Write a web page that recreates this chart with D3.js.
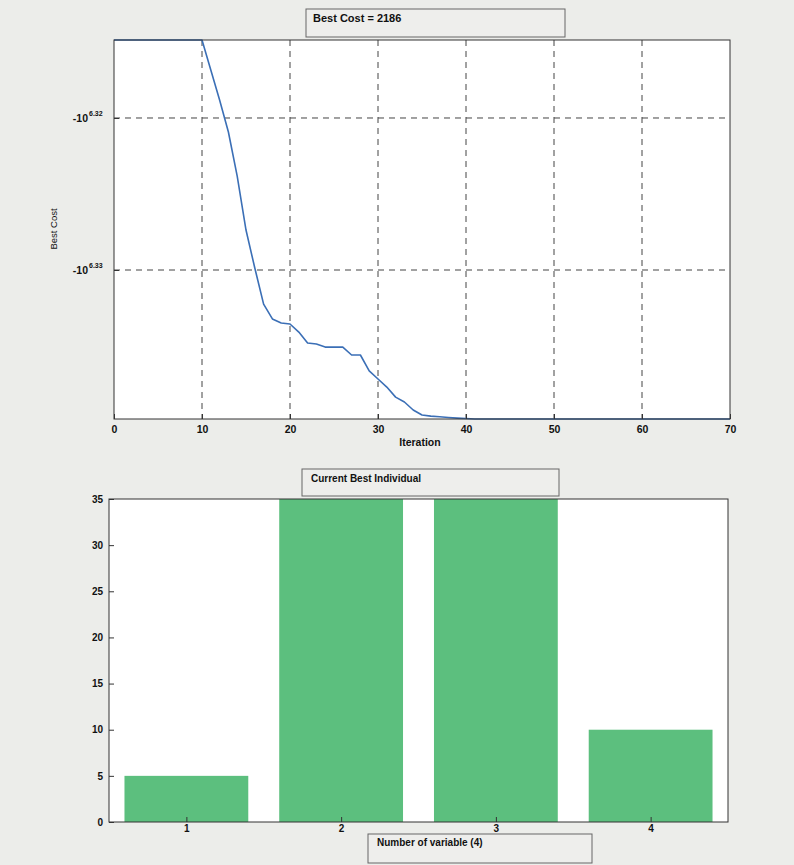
<!DOCTYPE html>
<html>
<head>
<meta charset="utf-8">
<script src="https://cdn.jsdelivr.net/npm/d3@7"></script>
<style>
  html, body { margin: 0; padding: 0; background: #ecedea; }
  svg { display: block; }
  text { font-family: "Liberation Sans", Arial, sans-serif; fill: #111; }
</style>
</head>
<body>
<svg id="chart" width="794" height="865"></svg>
<script>
// Convergence history: iteration number and log10 of |best cost|
const iterations = d3.range(0, 71);
const bestCostExp = [
  6.31487, 6.31487, 6.31487, 6.31487, 6.31487, 6.31487, 6.31487, 6.31487, 6.31487, 6.31487,
  6.31487, 6.31684, 6.31882, 6.32092, 6.32382, 6.32737, 6.32987, 6.33224, 6.33322, 6.33349,
  6.33355, 6.33408, 6.33480, 6.33487, 6.33507, 6.33507, 6.33507, 6.33559, 6.33559, 6.33664,
  6.33717, 6.33770, 6.33836, 6.33868, 6.33921, 6.33954, 6.33961, 6.33965, 6.33970, 6.33974,
  6.33977, 6.33980, 6.33980, 6.33980, 6.33980, 6.33980, 6.33980, 6.33980, 6.33980, 6.33980,
  6.33980, 6.33980, 6.33980, 6.33980, 6.33980, 6.33980, 6.33980, 6.33980, 6.33980, 6.33980,
  6.33980, 6.33980, 6.33980, 6.33980, 6.33980, 6.33980, 6.33980, 6.33980, 6.33980, 6.33980,
  6.33980
];
const costXTicks = [0, 10, 20, 30, 40, 50, 60, 70];
const costYTicks = [6.32, 6.33];
const bestCostValue = 2186;

// Current best individual: one bar per decision variable
const variables = [1, 2, 3, 4];
const variableValues = [5, 35, 35, 10];
const barYTicks = [0, 5, 10, 15, 20, 25, 30, 35];

const svg = d3.select("#chart");
const font = "Liberation Sans, Arial, sans-serif";

// ---------- Upper axes: Best Cost vs Iteration ----------
const upper = { left: 114, right: 730, top: 40, bottom: 419 };
const x1 = d3.scaleLinear().domain([0, 70]).range([upper.left, upper.right]);
const y1 = d3.scaleLinear().domain([6.31487, 6.33980]).range([upper.top, upper.bottom]);

svg.append("rect").attr("x", upper.left).attr("y", upper.top)
  .attr("width", upper.right - upper.left).attr("height", upper.bottom - upper.top)
  .attr("fill", "#fff");

// dashed grid
const g1 = svg.append("g");
g1.selectAll("line.vx").data(costXTicks.filter(t => t > 0 && t < 70)).join("line")
  .attr("x1", d => x1(d)).attr("x2", d => x1(d))
  .attr("y1", upper.top).attr("y2", upper.bottom)
  .attr("stroke", "#444").attr("stroke-width", 1).attr("stroke-dasharray", "6,5");
g1.selectAll("line.hy").data(costYTicks).join("line")
  .attr("x1", upper.left).attr("x2", upper.right)
  .attr("y1", d => y1(d)).attr("y2", d => y1(d))
  .attr("stroke", "#444").attr("stroke-width", 1).attr("stroke-dasharray", "6,5");

// convergence line
const line = d3.line().x((d, i) => x1(iterations[i])).y(d => y1(d));
svg.append("path").datum(bestCostExp)
  .attr("d", line).attr("fill", "none")
  .attr("stroke", "#3b6fb6").attr("stroke-width", 1.6).attr("stroke-linejoin", "round");

// frame
svg.append("rect").attr("x", upper.left).attr("y", upper.top)
  .attr("width", upper.right - upper.left).attr("height", upper.bottom - upper.top)
  .attr("fill", "none").attr("stroke", "#333").attr("stroke-width", 1);

// x axis (ticks inward, MATLAB style)
const ax1 = d3.axisBottom(x1).tickValues(costXTicks).tickSize(-5).tickPadding(7)
  .tickFormat(d3.format("d"));
const ax1g = svg.append("g").attr("transform", `translate(0,${upper.bottom})`).call(ax1);
ax1g.select(".domain").remove();
ax1g.selectAll("line").attr("stroke", "#333");
ax1g.selectAll("text").attr("font-size", 10.5).attr("font-weight", "bold").attr("font-family", font);

// y axis with negative power-of-ten labels
const ay1 = d3.axisLeft(y1).tickValues(costYTicks).tickSize(-5).tickPadding(6).tickFormat("");
const ay1g = svg.append("g").attr("transform", `translate(${upper.left},0)`).call(ay1);
ay1g.select(".domain").remove();
ay1g.selectAll("line").attr("stroke", "#333");
costYTicks.forEach(t => {
  svg.append("text").attr("x", upper.left - 26).attr("y", y1(t) + 4)
    .attr("text-anchor", "end").attr("font-size", 10.5).attr("font-weight", "bold")
    .text("-10");
  svg.append("text").attr("x", upper.left - 25).attr("y", y1(t) - 2)
    .attr("font-size", 7).attr("font-weight", "bold").text(t.toFixed(2));
});

svg.append("text").attr("x", (upper.left + upper.right) / 2 - 2).attr("y", 446)
  .attr("text-anchor", "middle").attr("font-size", 10.5).attr("font-weight", "bold")
  .text("Iteration");
svg.append("text").attr("transform", `translate(57,229) rotate(-90)`)
  .attr("text-anchor", "middle").attr("font-size", 9.5).text("Best Cost");

// title box
svg.append("rect").attr("x", 306).attr("y", 9).attr("width", 259).attr("height", 28)
  .attr("fill", "#eeeeec").attr("stroke", "#666").attr("stroke-width", 1);
svg.append("text").attr("x", 313).attr("y", 22).attr("font-size", 11).attr("font-weight", "bold")
  .text(`Best Cost = ${bestCostValue}`);

// ---------- Lower axes: Current Best Individual ----------
const lower = { left: 109, right: 728, top: 499, bottom: 822 };
const x2 = d3.scaleLinear().domain([0.5, 4.5]).range([lower.left, lower.right]);
const y2 = d3.scaleLinear().domain([0, 35]).range([lower.bottom, lower.top]);
const barW = (x2(2) - x2(1)) * 0.8;

svg.append("rect").attr("x", lower.left).attr("y", lower.top)
  .attr("width", lower.right - lower.left).attr("height", lower.bottom - lower.top)
  .attr("fill", "#fff");

svg.append("g").selectAll("rect").data(variableValues).join("rect")
  .attr("x", (d, i) => x2(variables[i]) - barW / 2)
  .attr("y", d => y2(d))
  .attr("width", barW)
  .attr("height", d => y2(0) - y2(d))
  .attr("fill", "#5cbf7e");

svg.append("rect").attr("x", lower.left).attr("y", lower.top)
  .attr("width", lower.right - lower.left).attr("height", lower.bottom - lower.top)
  .attr("fill", "none").attr("stroke", "#333").attr("stroke-width", 1);

const ax2 = d3.axisBottom(x2).tickValues(variables).tickSize(-5).tickPadding(3)
  .tickFormat(d3.format("d"));
const ax2g = svg.append("g").attr("transform", `translate(0,${lower.bottom})`).call(ax2);
ax2g.select(".domain").remove();
ax2g.selectAll("line").attr("stroke", "#333");
ax2g.selectAll("text").attr("font-size", 10).attr("font-weight", "bold").attr("font-family", font);

const ay2 = d3.axisLeft(y2).tickValues(barYTicks).tickSize(-5).tickPadding(6)
  .tickFormat(d3.format("d"));
const ay2g = svg.append("g").attr("transform", `translate(${lower.left},0)`).call(ay2);
ay2g.select(".domain").remove();
ay2g.selectAll("line").attr("stroke", "#333");
ay2g.selectAll("text").attr("font-size", 10).attr("font-weight", "bold").attr("font-family", font);

// lower title box
svg.append("rect").attr("x", 302).attr("y", 469).attr("width", 257).attr("height", 27)
  .attr("fill", "#eeeeec").attr("stroke", "#666").attr("stroke-width", 1);
svg.append("text").attr("x", 311).attr("y", 482).attr("font-size", 10).attr("font-weight", "bold")
  .text("Current Best Individual");

// lower x label box
svg.append("rect").attr("x", 368).attr("y", 834).attr("width", 224).attr("height", 29)
  .attr("fill", "#eeeeec").attr("stroke", "#666").attr("stroke-width", 1);
svg.append("text").attr("x", 377).attr("y", 846).attr("font-size", 10).attr("font-weight", "bold")
  .text(`Number of variable (${variables.length})`);
</script>
</body>
</html>
